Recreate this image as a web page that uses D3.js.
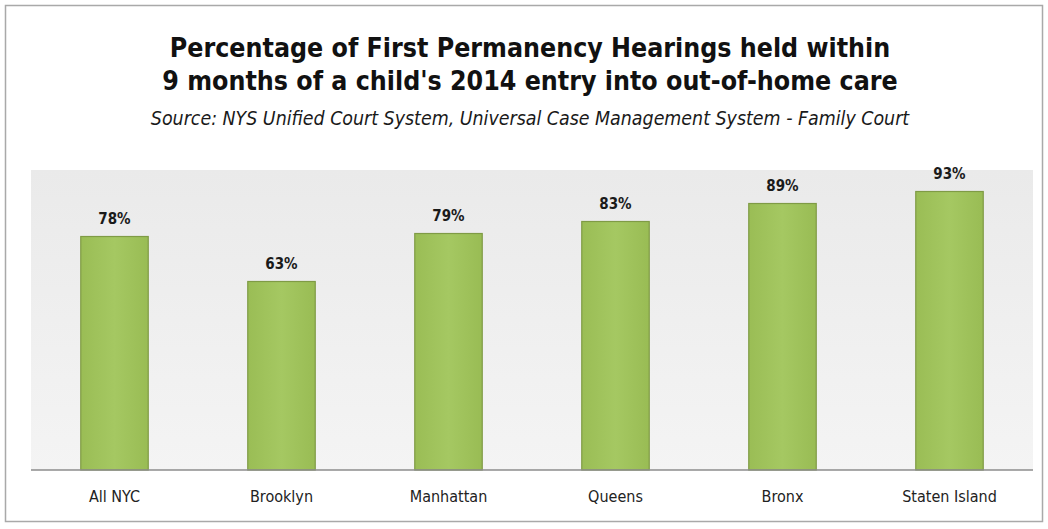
<!DOCTYPE html>
<html>
<head>
<meta charset="utf-8">
<script src="https://cdn.jsdelivr.net/npm/d3@7"></script>
<style>
  html, body { margin: 0; padding: 0; background: #ffffff; }
  svg { display: block; }
</style>
</head>
<body>
<svg id="chart" width="1048" height="529"></svg>
<script>
// Boroughs and share of first permanency hearings held within 9 months (%)
const categories = ["All NYC", "Brooklyn", "Manhattan", "Queens", "Bronx", "Staten Island"];
const values = [78, 63, 79, 83, 89, 93];
const valueLabels = ["78%", "63%", "79%", "83%", "89%", "93%"];

const titleLines = [
  "Percentage of First Permanency Hearings held within",
  "9 months of a child's 2014 entry into out-of-home care"
];
const subtitle = "Source: NYS Unified Court System, Universal Case Management System - Family Court";

const W = 1048, H = 529;
const plot = { left: 31, right: 1033, top: 170, bottom: 470 };
const font = "'DejaVu Sans Condensed', 'Liberation Sans Narrow', 'Open Sans', sans-serif";

const svg = d3.select("#chart");

const defs = svg.append("defs");
const bgGrad = defs.append("linearGradient").attr("id", "plotBg")
  .attr("x1", 0).attr("y1", 0).attr("x2", 0).attr("y2", 1);
bgGrad.append("stop").attr("offset", "0%").attr("stop-color", "#eaeaea");
bgGrad.append("stop").attr("offset", "100%").attr("stop-color", "#f4f4f4");

const barGrad = defs.append("linearGradient").attr("id", "barFill")
  .attr("x1", 0).attr("y1", 0).attr("x2", 1).attr("y2", 0);
barGrad.append("stop").attr("offset", "0%").attr("stop-color", "#9abd55");
barGrad.append("stop").attr("offset", "50%").attr("stop-color", "#a5c862");
barGrad.append("stop").attr("offset", "100%").attr("stop-color", "#99bc54");

// outer frame
svg.append("rect")
  .attr("x", 5.5).attr("y", 5.5).attr("width", W - 11).attr("height", H - 13)
  .attr("fill", "#ffffff").attr("stroke", "#a9a9a9").attr("stroke-width", 1.5);

// plot area
svg.append("rect")
  .attr("x", plot.left).attr("y", plot.top)
  .attr("width", plot.right - plot.left).attr("height", plot.bottom - plot.top)
  .attr("fill", "url(#plotBg)");

const x = d3.scaleBand().domain(categories).range([plot.left, plot.right]).paddingInner(0.59).paddingOuter(0.295);
const y = d3.scaleLinear().domain([0, 100]).range([plot.bottom, plot.top]);

const data = categories.map((c, i) => ({ c, v: values[i], label: valueLabels[i] }));

svg.append("g").selectAll("rect").data(data).join("rect")
  .attr("x", d => x(d.c) + 0.5)
  .attr("y", d => y(d.v) + 0.5)
  .attr("width", x.bandwidth() - 1)
  .attr("height", d => y(0) - y(d.v) - 0.5)
  .attr("fill", "url(#barFill)")
  .attr("stroke", "#7f9b45")
  .attr("stroke-width", 1.2);

// value labels
svg.append("g").selectAll("text").data(data).join("text")
  .attr("x", d => x(d.c) + x.bandwidth() / 2)
  .attr("y", d => y(d.v) - 12)
  .attr("text-anchor", "middle")
  .attr("font-family", font)
  .attr("font-weight", "bold")
  .attr("font-size", 15)
  .attr("fill", "#1a1a1a")
  .text(d => d.label);

// category axis
const xAxis = svg.append("g").attr("transform", `translate(0,${plot.bottom})`)
  .call(d3.axisBottom(x).tickSize(0).tickPadding(21));
xAxis.select(".domain").attr("stroke", "#8c8c8c").attr("stroke-width", 1.5)
  .attr("d", `M${plot.left},0H${plot.right}`);
xAxis.selectAll("text")
  .attr("font-family", font).attr("font-size", 16).attr("fill", "#222");

// titles
svg.append("g").selectAll("text").data(titleLines).join("text")
  .attr("x", W / 2 + 6)
  .attr("y", (d, i) => 57 + i * 33)
  .attr("text-anchor", "middle")
  .attr("font-family", font)
  .attr("font-weight", "bold")
  .attr("font-size", 26.5)
  .attr("fill", "#111")
  .text(d => d);

svg.append("text")
  .attr("x", W / 2 + 6).attr("y", 125)
  .attr("text-anchor", "middle")
  .attr("font-family", font)
  .attr("font-style", "italic")
  .attr("font-size", 19.4)
  .attr("fill", "#1a1a1a")
  .text(subtitle);
</script>
</body>
</html>
